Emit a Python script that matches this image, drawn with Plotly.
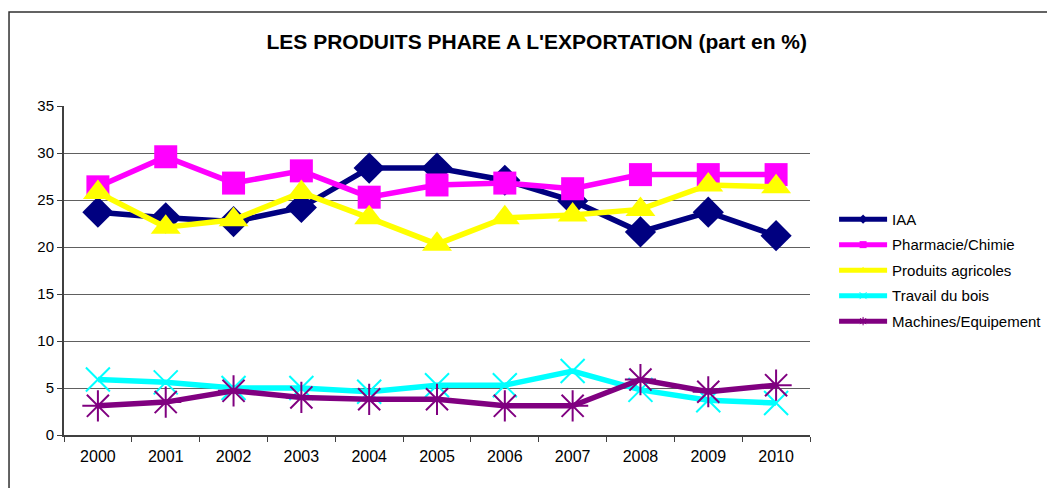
import plotly.graph_objects as go

years = ["2000", "2001", "2002", "2003", "2004", "2005", "2006", "2007", "2008", "2009", "2010"]
iaa = [23.7, 23.1, 22.7, 24.2, 28.4, 28.4, 27.1, 24.9, 21.6, 23.7, 21.2]
pharmacie = [26.4, 29.6, 26.8, 28.1, 25.3, 26.6, 26.8, 26.2, 27.7, 27.7, 27.7]
agricoles = [25.8, 22.1, 22.9, 25.8, 23.1, 20.3, 23.1, 23.4, 24.0, 26.6, 26.4]
bois = [5.9, 5.6, 5.0, 5.0, 4.6, 5.3, 5.3, 6.8, 4.8, 3.7, 3.4]
machines = [3.1, 3.5, 4.7, 4.0, 3.8, 3.8, 3.1, 3.1, 5.9, 4.6, 5.3]
y_ticks = [0, 5, 10, 15, 20, 25, 30, 35]

series = [
    ("IAA", iaa, "#000080", "diamond", 24),
    ("Pharmacie/Chimie", pharmacie, "#FF00FF", "square", 23),
    ("Produits agricoles", agricoles, "#FFFF00", "triangle-up", 26),
    ("Travail du bois", bois, "#00FFFF", "x-thin-open", 24),
    ("Machines/Equipement", machines, "#800080", "asterisk-open", 26),
]

fig = go.Figure()
for name, vals, color, sym, size in series:
    open_sym = sym.endswith("open")
    fig.add_trace(go.Scatter(
        x=years, y=vals, name=name, mode="lines+markers",
        line=dict(color=color, width=5.5),
        marker=dict(symbol=sym, size=size, color=color,
                    line=dict(color=color, width=2 if open_sym else 0)),
        showlegend=False,
    ))
for name, vals, color, sym, size in series:
    open_sym = sym.endswith("open")
    fig.add_trace(go.Scatter(
        x=[None], y=[None], name=name, mode="lines+markers",
        legendgroup=name,
        line=dict(color=color, width=5),
        marker=dict(symbol=sym, size=7, color=color,
                    line=dict(color=color, width=1 if open_sym else 0)),
        showlegend=True,
    ))

fig.update_layout(
    width=1047, height=480,
    margin=dict(l=56, r=245, t=98, b=53),
    paper_bgcolor="white", plot_bgcolor="white",
    font=dict(family="Liberation Sans, Arial, sans-serif", size=15, color="black"),
    title=dict(text="<b>LES PRODUITS PHARE A L'EXPORTATION (part en %)</b>",
               x=0.505, xanchor="center", y=0.93, yanchor="middle",
               font=dict(size=21, color="black")),
    showlegend=True,
    legend=dict(xref="container", yref="container", x=0.789, xanchor="left",
                y=0.594, yanchor="top",
                font=dict(size=15, color="black"), tracegroupgap=3,
                itemwidth=48, bgcolor="rgba(0,0,0,0)"),
    xaxis=dict(type="category", showgrid=False, showline=True, linecolor="#404040",
               linewidth=2, ticks="outside", ticklen=5, tickcolor="#404040",
               tickson="boundaries", mirror=False, range=[-0.5, 10.5],
               tickfont=dict(size=16), ticklabelstandoff=6),
    yaxis=dict(range=[0, 35], tickvals=y_ticks, showgrid=True, gridcolor="#606060",
               gridwidth=1, showline=True, linecolor="#404040", linewidth=2,
               ticks="outside", ticklen=5, tickcolor="#404040", zeroline=False),
    shapes=[
        dict(type="rect", xref="paper", yref="paper", x0=-0.0737, x1=1.4, y0=-0.3,
             y1=1.286, line=dict(color="#303030", width=1.5)),
    ],
)

fig.write_html("out.html")
